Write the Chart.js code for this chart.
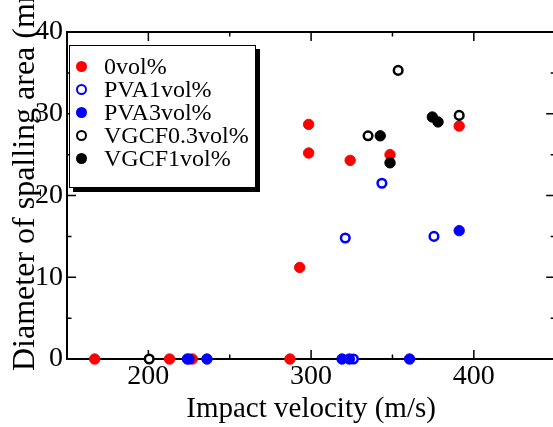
<!DOCTYPE html>
<html>
<head>
<meta charset="utf-8">
<script src="https://cdn.jsdelivr.net/npm/chart.js@4/dist/chart.umd.min.js"></script>
<style>
  html, body { margin: 0; padding: 0; background: #fff; overflow: hidden; }
  #wrap { position: relative; width: 553px; height: 427px; overflow: hidden; }
  #legend {
    position: absolute; left: 69px; top: 45px; width: 185px; height: 132px;
    border: 1.5px solid #000; background: #fff; box-shadow: 4px 4px 0 #000;
    font-family: "Liberation Serif", "Times New Roman", serif; font-size: 24px; color: #000;
    padding-top: 9px; box-sizing: content-box;
  }
  .row { position: relative; height: 23px; line-height: 23px; padding-left: 34px; white-space: nowrap; }
  .mk { position: absolute; left: 5.5px; top: 6px; width: 11px; height: 11px; border-radius: 50%; box-sizing: border-box; }
</style>
</head>
<body>
<div id="wrap">
  <canvas id="myChart" width="562" height="427"></canvas>
  <div id="legend"></div>
</div>
<script>
/* data */
const seriesNames = ['0vol%', 'PVA1vol%', 'PVA3vol%', 'VGCF0.3vol%', 'VGCF1vol%'];
const seriesColors = ['#ff0000', '#0000ff', '#0000ff', '#000000', '#000000'];
const seriesOpen = [false, true, false, true, false];

const vel0 = [167, 213, 227, 287, 293, 298.5, 298.5, 324, 348.5, 391];
const dia0 = [0, 0, 0, 0, 11.2, 28.7, 25.2, 24.3, 25.0, 28.5];
const velPVA1 = [225, 326, 321, 343.5, 375.5];
const diaPVA1 = [0, 0, 14.8, 21.5, 15.0];
const velPVA3 = [224, 236, 319, 323.5, 360.5, 391];
const diaPVA3 = [0, 0, 0, 0, 0, 15.7];
const velVGCF03 = [200.5, 335, 353.5, 391];
const diaVGCF03 = [0, 27.3, 35.3, 29.8];
const velVGCF1 = [342.5, 348.5, 374.5, 378];
const diaVGCF1 = [27.3, 24.0, 29.6, 29.0];

const xTicks = [200, 300, 400];
const yTicks = [0, 10, 20, 30, 40];

const seriesVel = [vel0, velPVA1, velPVA3, velVGCF03, velVGCF1];
const seriesDia = [dia0, diaPVA1, diaPVA3, diaVGCF03, diaVGCF1];

const serif = '"Liberation Serif", "Times New Roman", serif';

const datasets = seriesNames.map(function(name, i){
  const open = seriesOpen[i];
  return {
    label: name,
    data: seriesVel[i].map(function(v, j){ return {x: v, y: seriesDia[i][j]}; }),
    backgroundColor: open ? '#ffffff' : seriesColors[i],
    borderColor: seriesColors[i],
    borderWidth: open ? 2.5 : 1,
    pointRadius: open ? 4.3 : 5.2,
    pointHoverRadius: open ? 4.3 : 5.2,
    clip: false,
    order: seriesNames.length - 1 - i
  };
});

/* frame, inward ticks and the rotated y title */
const framePlugin = {
  id: 'frame',
  beforeDatasetsDraw(chart){
    const ctx = chart.ctx;
    const a = chart.chartArea;
    const xs = chart.scales.x, ys = chart.scales.y;
    ctx.save();
    ctx.strokeStyle = '#000';
    ctx.lineWidth = 1.5;
    ctx.beginPath();
    for (let v = 200; v <= 400; v += 50) {
      const px = xs.getPixelForValue(v);
      const len = v % 100 === 0 ? 9 : 4.5;
      ctx.moveTo(px, a.bottom); ctx.lineTo(px, a.bottom - len);
      ctx.moveTo(px, a.top); ctx.lineTo(px, a.top + len);
    }
    for (let v = 5; v < 40; v += 5) {
      const py = ys.getPixelForValue(v);
      const len = v % 10 === 0 ? 9 : 4.5;
      ctx.moveTo(a.left, py); ctx.lineTo(a.left + len, py);
      ctx.moveTo(a.right, py); ctx.lineTo(a.right - len, py);
    }
    ctx.stroke();
    ctx.lineWidth = 2;
    ctx.strokeRect(a.left, a.top, a.right - a.left, a.bottom - a.top);

    ctx.fillStyle = '#000';
    ctx.font = '32px ' + serif;
    ctx.translate(34, 371);
    ctx.rotate(-Math.PI / 2);
    ctx.textAlign = 'left';
    ctx.textBaseline = 'alphabetic';
    ctx.fillText('Diameter of spalling area (mm)', 0, 0);
    ctx.restore();
  }
};

const config = {
  type: 'scatter',
  data: { datasets },
  options: {
    responsive: false,
    animation: false,
    devicePixelRatio: 1,
    layout: { padding: { top: 32, right: 2, left: 0, bottom: 0 } },
    plugins: { legend: { display: false }, tooltip: { enabled: false } },
    scales: {
      x: {
        type: 'linear', min: 150, max: 450,
        grid: { display: false, drawTicks: false, tickLength: 0 }, border: { display: false },
        ticks: {
          stepSize: 50, autoSkip: false, maxRotation: 0, padding: 1, color: '#000',
          font: { family: serif, size: 28 },
          callback: function(v){ return xTicks.includes(v) ? String(v) : ''; }
        },
        title: {
          display: true, text: 'Impact velocity (m/s)', color: '#000',
          font: { family: serif, size: 29 }, padding: { top: 0, bottom: 0 }
        },
        afterFit: function(s){ s.height = 68; }
      },
      y: {
        type: 'linear', min: 0, max: 40,
        grid: { display: false, drawTicks: false, tickLength: 0 }, border: { display: false },
        ticks: {
          stepSize: 5, autoSkip: false, padding: 4, color: '#000',
          font: { family: serif, size: 28 },
          callback: function(v){ return yTicks.includes(v) ? String(v) : ''; }
        },
        afterFit: function(s){ s.width = 67; }
      }
    }
  },
  plugins: [framePlugin]
};

const myChart = new Chart(document.getElementById('myChart'), config);

/* legend box built from the same series lists */
const legend = document.getElementById('legend');
seriesNames.forEach(function(name, i){
  const row = document.createElement('div');
  row.className = 'row';
  const mk = document.createElement('span');
  mk.className = 'mk';
  if (seriesOpen[i]) {
    mk.style.border = '2.5px solid ' + seriesColors[i];
    mk.style.background = '#fff';
  } else {
    mk.style.background = seriesColors[i];
  }
  row.appendChild(mk);
  row.appendChild(document.createTextNode(name));
  legend.appendChild(row);
});
</script>
</body>
</html>
